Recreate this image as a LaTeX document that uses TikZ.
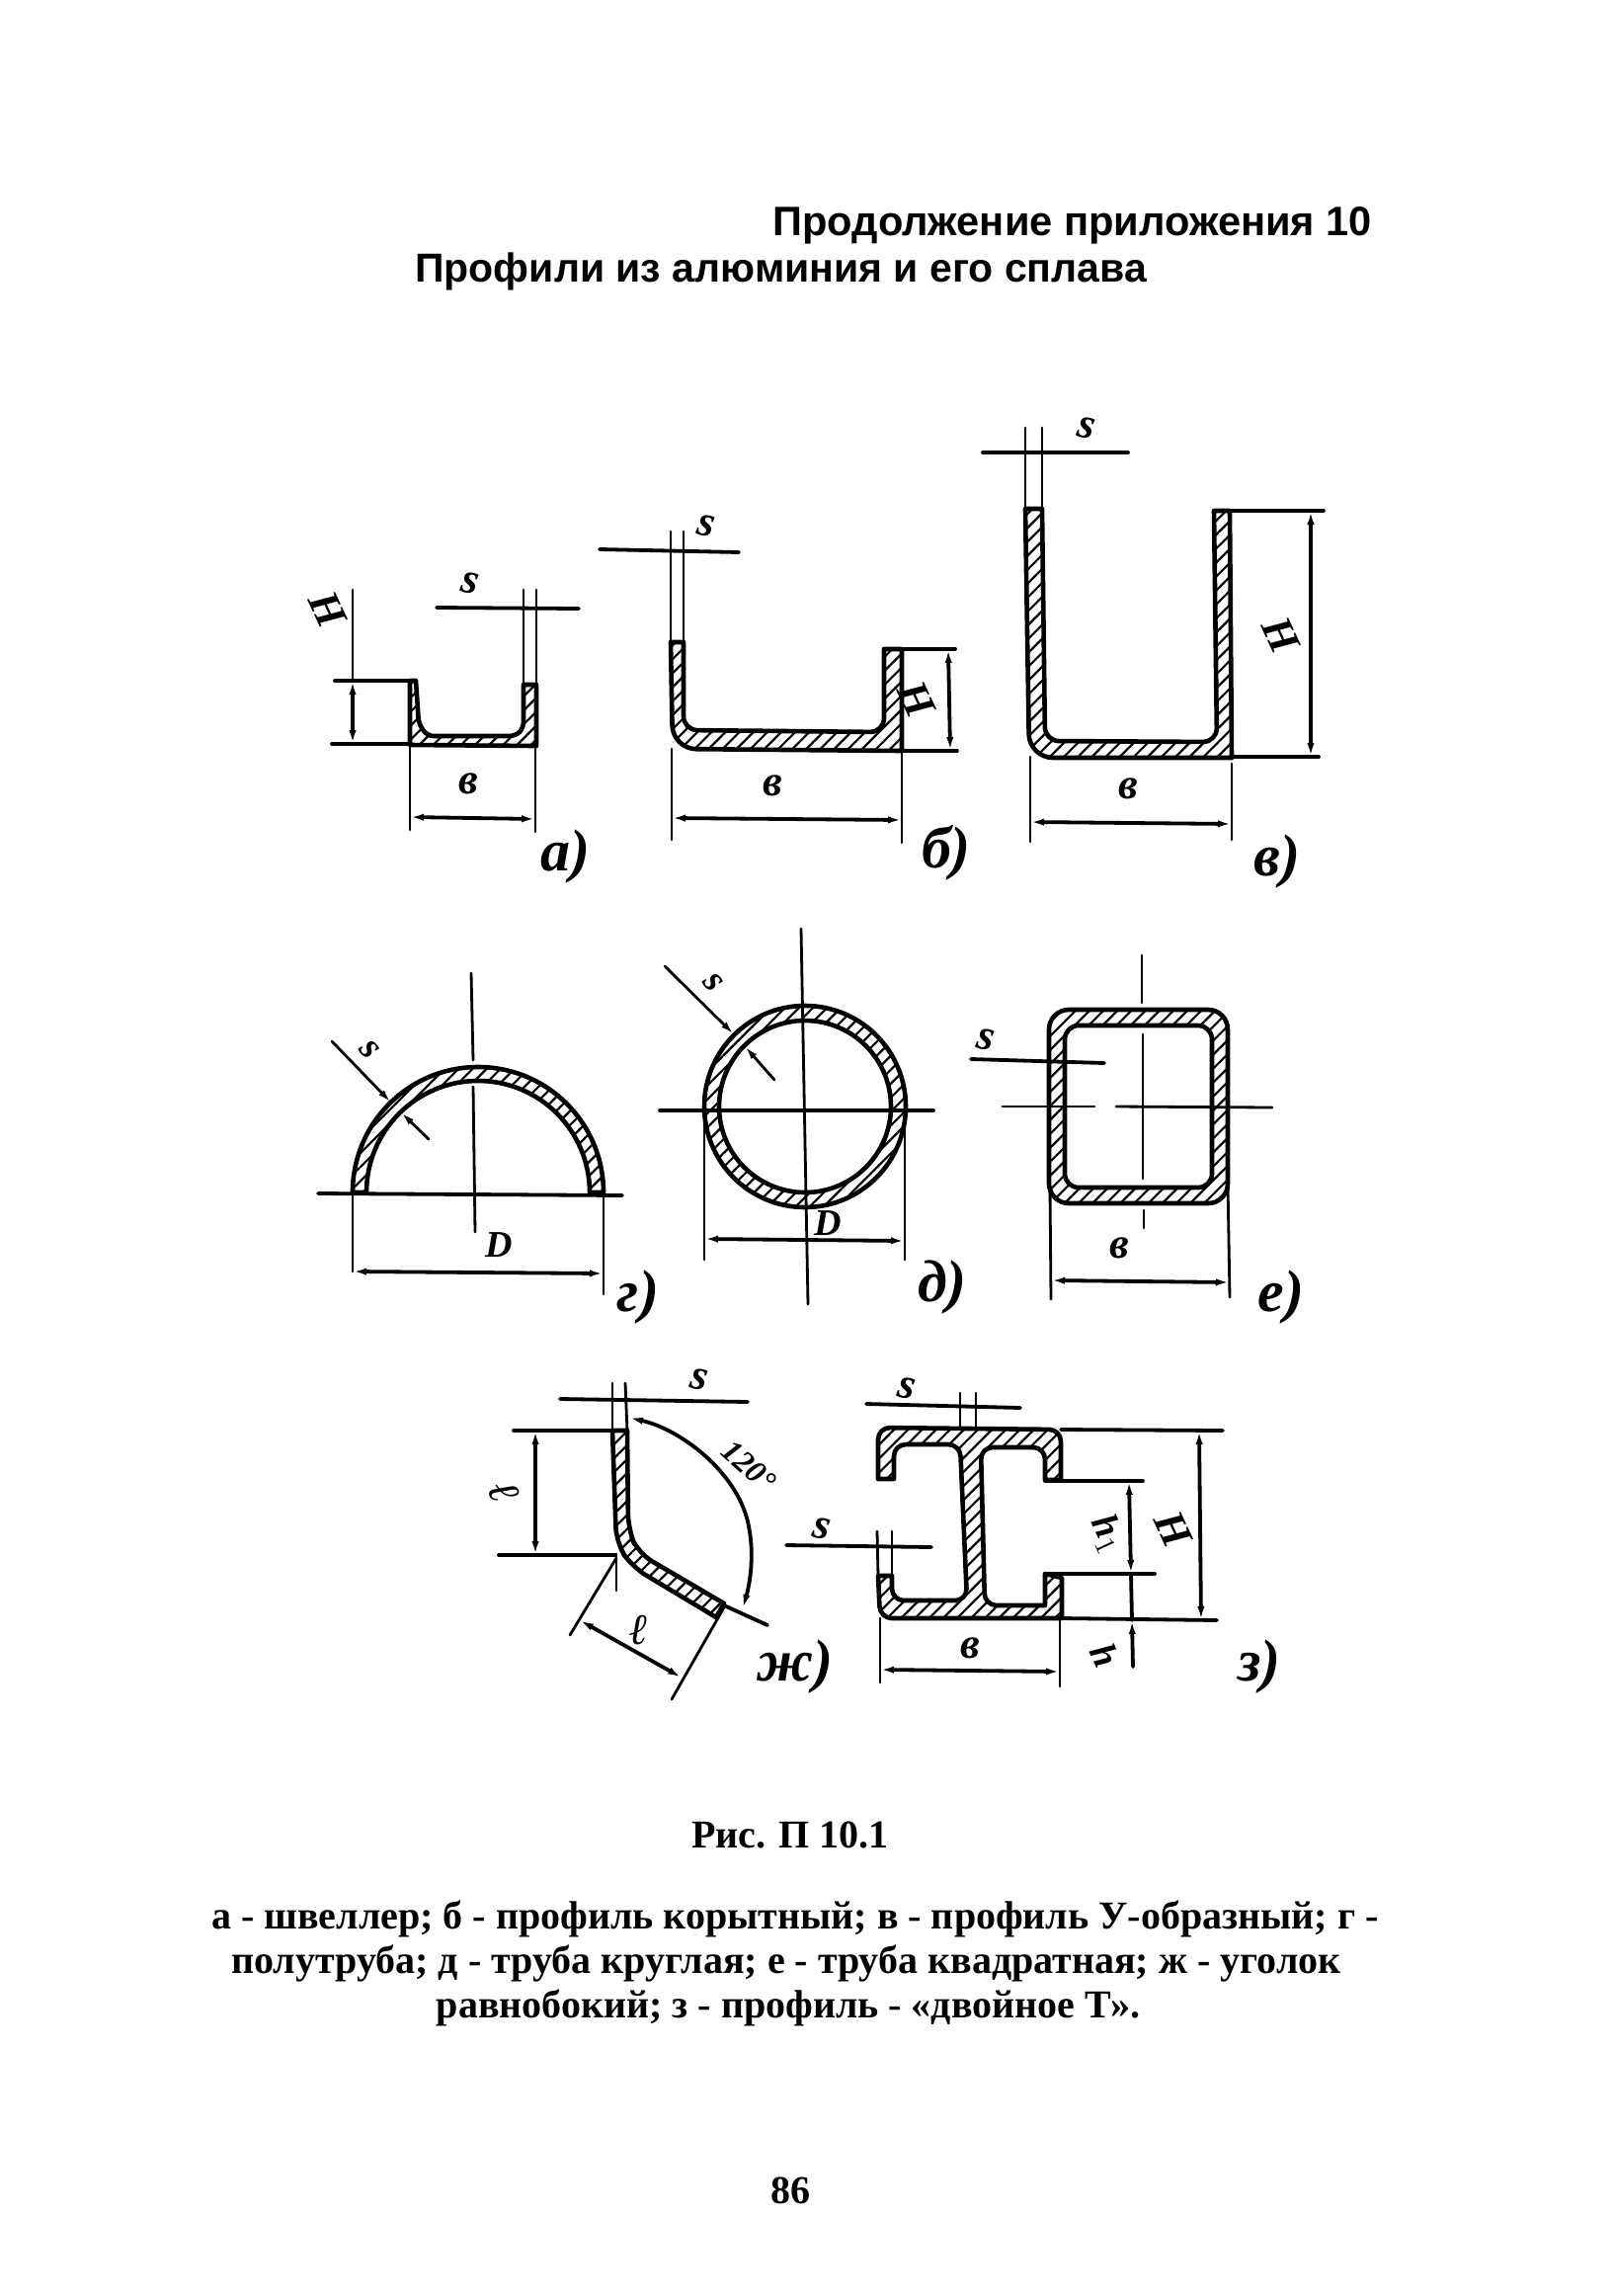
\documentclass[tikz,border=0pt]{standalone}
\usepackage{fontspec}
\setmainfont{Liberation Serif}
\newfontfamily\headfont{Liberation Sans}
\usetikzlibrary{arrows.meta,patterns.meta}

\begin{document}
\begin{tikzpicture}[
  x=0.5pt, y=-0.5pt,
  >={Latex[length=7pt,width=3.6pt]},
  profile/.style={line width=2.3pt, line join=round, pattern={Lines[angle=45,distance=5pt,line width=1.1pt]}},
  thinline/.style={line width=1.4pt, line cap=round},
  dimline/.style={line width=1.9pt, line cap=round},
  dimarrow/.style={dimline, <->},
  headtext/.style={anchor=base west, inner sep=0pt, font=\headfont\bfseries\fontsize{20.5}{24}\selectfont},
  captext/.style={anchor=base, inner sep=0pt, font=\bfseries\fontsize{20}{24}\selectfont},
  dimlabel/.style={inner sep=0pt, font=\bfseries\itshape\fontsize{22}{24}\selectfont},
  smalllabel/.style={inner sep=0pt, font=\bfseries\itshape\fontsize{19}{21}\selectfont},
  figlabel/.style={inner sep=0pt, font=\bfseries\itshape\fontsize{30}{32}\selectfont}
]
\useasboundingbox (0,0) rectangle (1633,2324);

\node[headtext, font=\headfont\bfseries\fontsize{20.8}{24}\selectfont] (headOne) at (782,238) {Продолжение приложения 10};
\node[headtext] (headTwo) at (420,285) {Профили из алюминия и его сплава};

% channel a
\draw[profile] (415,689) -- (415,754) -- (543,755) -- (543,693) -- (530,693) [rounded corners=3pt] -- (530,737) -- (522,745) -- (433,745) -- (424,733) [sharp corners] -- (421,689) -- cycle;
\draw[thinline] (530,597) -- (530,693);
\draw[thinline] (543,597) -- (543,693);
\draw[dimline] (442,615) -- (586,616);
\draw[dimline] (339,689) -- (415,689);
\draw[dimline] (336,753) -- (415,753);
\draw[thinline] (357,597) -- (357,689);
\draw[dimarrow] (357,689) -- (357,753);
\draw[thinline] (415,753) -- (415,840);
\draw[thinline] (542,755) -- (542,842);
\draw[dimarrow] (415,827) -- (542,829);
\node[dimlabel, rotate=-12] (chanS) at (476,590) {s};
\node[dimlabel, rotate=-65] (chanH) at (332,617) {H};
\node[dimlabel] (chanB) at (474,793) {в};
\node[figlabel] (chanFig) at (572,867) {а)};

% trough b
\draw[profile] (679,650) [rounded corners=12pt] -- (681,758) [sharp corners] -- (913,760) -- (913,657) -- (895,657) [rounded corners=7pt] -- (895,741) -- (692,739) [sharp corners] -- (692,650) -- cycle;
\draw[thinline] (679,538) -- (679,650);
\draw[thinline] (692,538) -- (692,650);
\draw[dimline] (607,556) -- (748,559);
\draw[dimline] (895,657) -- (967,657);
\draw[dimline] (913,760) -- (969,760);
\draw[dimarrow] (960,657) -- (962,760);
\draw[thinline] (680,758) -- (680,850);
\draw[thinline] (913,760) -- (913,853);
\draw[dimarrow] (680,828) -- (913,830);
\node[dimlabel, rotate=-12] (troughS) at (715,532) {s};
\node[dimlabel, rotate=-65] (troughH) at (928,708) {H};
\node[dimlabel] (troughB) at (782,795) {в};
\node[figlabel] (troughFig) at (958,863) {б)};

% U profile
\draw[profile] (1038,515) [rounded corners=12pt] -- (1042,767) [sharp corners] -- (1247,767) -- (1245,517) -- (1229,517) [rounded corners=7pt] -- (1232,751) -- (1058,750) [sharp corners] -- (1055,515) -- cycle;
\draw[thinline] (1038,433) -- (1038,515);
\draw[thinline] (1055,433) -- (1055,515);
\draw[dimline] (995,458) -- (1142,458);
\draw[dimline] (1229,517) -- (1340,517);
\draw[dimline] (1247,766) -- (1335,766);
\draw[dimarrow] (1327,517) -- (1327,766);
\draw[thinline] (1043,766) -- (1043,852);
\draw[thinline] (1247,773) -- (1247,850);
\draw[dimarrow] (1043,832) -- (1247,834);
\node[dimlabel, rotate=-12] (uS) at (1100,433) {s};
\node[dimlabel, rotate=-65] (uH) at (1297,643) {H};
\node[dimlabel] (uB) at (1142,798) {в};
\node[figlabel] (uFig) at (1293,872) {в)};

% half pipe
\draw[profile] (357,1207) arc[start angle=180, end angle=360, radius=127] -- (597,1207) arc[start angle=360, end angle=180, radius=113] -- cycle;
\draw[thinline] (477,985) -- (479,1073);
\draw[thinline] (479,1100) -- (481,1247);
\draw[dimline] (322,1208) -- (630,1210);
\draw[thinline] (357,1207) -- (357,1287);
\draw[thinline] (611,1207) -- (611,1310);
\draw[dimarrow] (357,1287) -- (611,1289);
\draw[thinline, ->] (336,1054) -- (396,1116);
\draw[thinline, ->] (434,1153) -- (406,1126);
\node[smalllabel, rotate=-50] (halfS) at (374,1063) {s};
\node[smalllabel] (halfD) at (505,1260) {D};
\node[figlabel] (halfFig) at (646,1313) {г)};

% round pipe
\draw[profile, even odd rule] (815,1120) circle[radius=102] (815,1120) circle[radius=87];
\draw[thinline] (811,940) -- (818,1320);
\draw[dimline] (668,1124) -- (945,1124);
\draw[thinline] (713,1124) -- (713,1275);
\draw[thinline] (916,1124) -- (916,1275);
\draw[dimarrow] (713,1254) -- (916,1256);
\draw[thinline, ->] (673,978) -- (743,1047);
\draw[thinline, ->] (784,1093) -- (754,1059);
\node[smalllabel, rotate=-50] (roundS) at (722,995) {s};
\node[smalllabel] (roundD) at (838,1238) {D};
\node[figlabel] (roundFig) at (954,1303) {д)};

% square pipe
\draw[profile, even odd rule, rounded corners=10pt] (1062,1022) rectangle (1243,1218) [rounded corners=7pt] (1078,1038) rectangle (1227,1202);
\draw[thinline] (1156,967) -- (1156,1015);
\draw[thinline] (1157,1047) -- (1157,1193);
\draw[thinline] (1158,1225) -- (1158,1243);
\draw[thinline] (1015,1120) -- (1108,1120);
\draw[thinline] (1130,1120) -- (1288,1121);
\draw[dimline] (983,1072) -- (1118,1076);
\draw[thinline] (1063,1202) -- (1064,1315);
\draw[thinline] (1243,1197) -- (1245,1313);
\draw[dimarrow] (1064,1296) -- (1245,1298);
\node[dimlabel, rotate=-12] (squareS) at (998,1052) {s};
\node[dimlabel] (squareB) at (1133,1263) {в};
\node[figlabel] (squareFig) at (1297,1313) {е)};

% angle
\draw[profile] (620,1448) [rounded corners=8pt] -- (624,1562) -- (640,1586) [sharp corners] -- (725,1637) -- (733,1623) [rounded corners=8pt] -- (646,1572) -- (636,1548) [sharp corners] -- (635,1448) -- cycle;
\draw[thinline] (620,1400) -- (620,1448);
\draw[thinline] (633,1400) -- (635,1448);
\draw[dimline] (567,1416) -- (757,1419);
\draw[dimline] (520,1448) -- (635,1448);
\draw[dimline] (505,1574) -- (623,1574);
\draw[dimarrow] (542,1448) -- (542,1574);
\draw[thinline] (624,1573) -- (624,1610);
\draw[thinline] (624,1577) -- (577,1655);
\draw[thinline] (733,1627) -- (680,1720);
\draw[dimarrow] (587,1640) -- (690,1698);
\draw[dimline] (733,1625) -- (777,1645);
\draw[dimarrow] (637,1435) .. controls (690,1447) and (745,1490) .. (757,1540) .. controls (764,1570) and (760,1600) .. (752,1628);
\node[dimlabel, rotate=-12] (angleS) at (708,1396) {s};
\node[dimlabel, rotate=-70] (angleLeft) at (510,1510) {ℓ};
\node[dimlabel] (angleRight) at (647,1650) {ℓ};
\node[smalllabel, rotate=-42, font=\bfseries\itshape\fontsize{16}{18}\selectfont] (angleDeg) at (758,1484) {120°};
\node[figlabel] (angleFig) at (805,1687) {ж)};

% double T
\draw[profile] (889,1497) [rounded corners=6pt] -- (889,1445) -- (1074,1447) [sharp corners] -- (1074,1498) -- (1058,1498) [rounded corners=6pt] -- (1058,1465) -- (993,1465) -- (997,1625) [sharp corners] -- (1058,1625) -- (1058,1593) -- (1075,1597) -- (1075,1638) [rounded corners=6pt] -- (891,1638) [sharp corners] -- (889,1595) -- (903,1595) [rounded corners=6pt] -- (903,1620) -- (979,1620) -- (972,1462) -- (905,1462) [sharp corners] -- (905,1497) -- cycle;
\draw[thinline] (972,1410) -- (972,1445);
\draw[thinline] (988,1410) -- (988,1445);
\draw[dimline] (877,1421) -- (1033,1425);
\draw[thinline] (888,1550) -- (889,1595);
\draw[thinline] (903,1550) -- (903,1595);
\draw[dimline] (796,1564) -- (943,1566);
\draw[dimline] (1074,1447) -- (1238,1448);
\draw[dimline] (1058,1499) -- (1157,1499);
\draw[dimline] (1058,1593) -- (1169,1593);
\draw[dimline] (1075,1638) -- (1232,1640);
\draw[dimarrow] (1214,1448) -- (1216,1640);
\draw[dimarrow] (1143,1499) -- (1145,1593);
\draw[dimline] (1145,1593) -- (1146,1640);
\draw[dimline, ->] (1147,1687) -- (1146,1640);
\draw[thinline] (891,1638) -- (891,1703);
\draw[thinline] (1073,1638) -- (1073,1707);
\draw[dimarrow] (891,1690) -- (1073,1692);
\node[dimlabel, rotate=-12] (teeTopS) at (918,1405) {s};
\node[dimlabel, rotate=-12] (teeSideS) at (832,1547) {s};
\node[dimlabel] (teeB) at (982,1668) {в};
\node[smalllabel, rotate=-65] (teeHone) at (1121,1553) {h$_1$};
\node[dimlabel, rotate=-65] (teeH) at (1188,1548) {H};
\node[smalllabel, rotate=-65] (teeHsmall) at (1119,1675) {h};
\node[figlabel] (teeFig) at (1275,1687) {з)};

\node[captext] (capTitle) at (800,1870) {Рис. П 10.1};
\node[captext] (capOne) at (805,1952) {а - швеллер; б - профиль корытный; в - профиль У-образный; г -};
\node[captext] (capTwo) at (796,1997) {полутруба; д - труба круглая; е - труба квадратная; ж - уголок};
\node[captext] (capThree) at (798,2042) {равнобокий; з - профиль - «двойное Т».};
\node[captext] (pageNum) at (800,2230) {86};
\end{tikzpicture}
\end{document}
